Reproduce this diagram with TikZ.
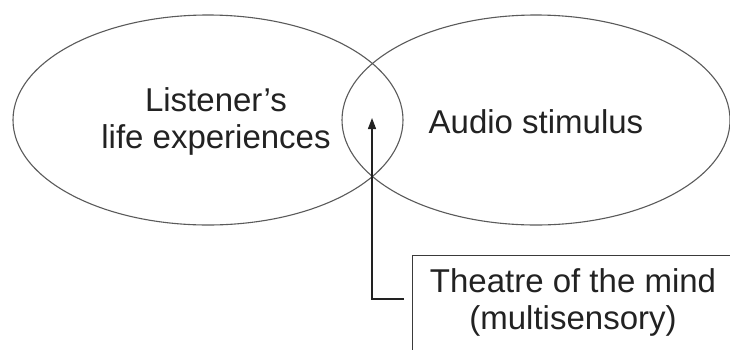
\documentclass[tikz,border=0pt]{standalone}
\usepackage{fontspec}
\setmainfont{Liberation Sans}
\usetikzlibrary{shapes.geometric,arrows.meta}
\definecolor{ellgray}{HTML}{5A5A5A}
\definecolor{boxgray}{HTML}{3A3A3A}
\definecolor{txt}{HTML}{222222}
\tikzset{
  vennell/.style={draw=ellgray, line width=1.1pt, ellipse, inner sep=0pt},
  lbl/.style={align=center, text=txt, font=\fontsize{33}{37}\selectfont, inner sep=0pt},
  callout/.style={draw=boxgray, line width=1.3pt, rectangle, inner sep=0pt},
  pointer/.style={draw=txt, line width=1.3pt, -{Triangle[width=8pt,length=11pt]}}
}
\begin{document}
\begin{tikzpicture}[x=1pt,y=-1pt]
\useasboundingbox (0,0) rectangle (730,349);
\clip (0,0) rectangle (730,349);
\fill[white] (0,0) rectangle (730,349);
% ellipses
\node[vennell, minimum width=390pt, minimum height=210pt] (left) at (208,120) {};
\node[vennell, minimum width=388pt, minimum height=210pt] (right) at (536,120) {};
% labels
\node[lbl] (lt) at (216,121) {Listener’s\\life experiences};
\node[lbl] (rt) at (536,122) {Audio stimulus};
% callout box (extends past the picture edge)
\node[callout, minimum width=340pt, minimum height=130pt, anchor=north west] (box) at (412,255) {};
\node[lbl] (bt) at (573,302) {Theatre of the mind\\(multisensory)};
% pointer
\coordinate (start) at (404,299);
\coordinate (tip) at (372,118);
\draw[pointer] (start) -| (tip);
\end{tikzpicture}
\end{document}
